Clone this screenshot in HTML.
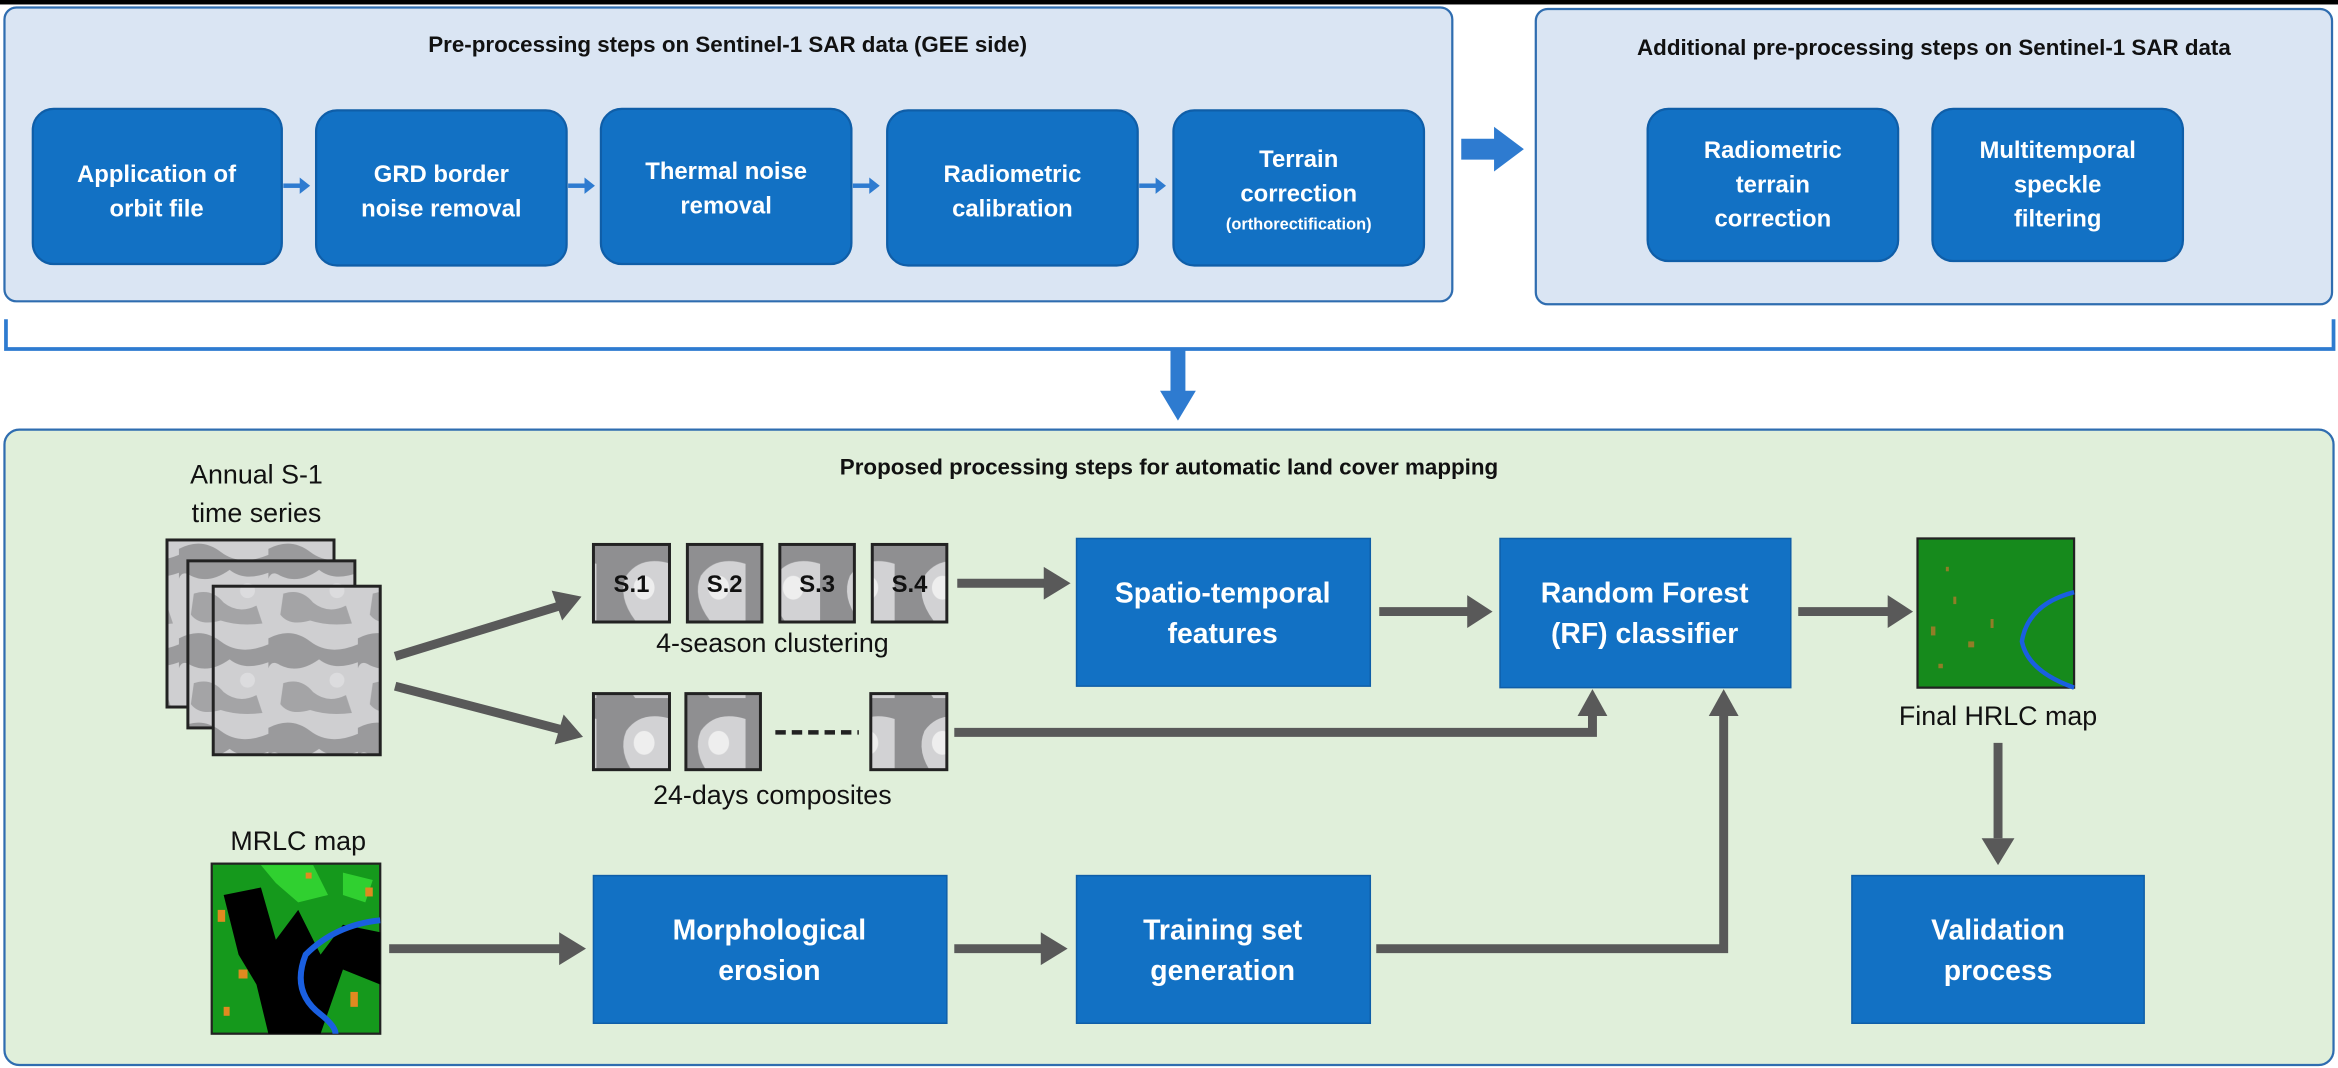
<!DOCTYPE html>
<html><head><meta charset="utf-8">
<style>
html,body{margin:0;padding:0;background:#fff;}
svg{display:block;}
text{font-family:"Liberation Sans Narrow","Liberation Sans",sans-serif;}
.t{font-weight:bold;font-size:15px;fill:#111;text-anchor:middle;}
.w{font-weight:bold;fill:#fff;text-anchor:middle;font-size:16px;}
.wb{font-weight:bold;fill:#fff;text-anchor:middle;font-size:19px;}
.l{fill:#111;text-anchor:middle;font-size:18px;}
.bx{fill:#1271c4;stroke:#0f5ea8;stroke-width:1.5;}
.sq{fill:#1271c4;stroke:#0f5ea8;stroke-width:1;}
.ga{stroke:#595959;stroke-width:6;fill:none;}
.gh{fill:#595959;}
.ba{stroke:#2e7bd0;stroke-width:2.5;fill:none;}
.bh{fill:#2e7bd0;}
</style></head><body>
<svg width="2338" height="1068" viewBox="0 0 1568 716" preserveAspectRatio="none" xmlns="http://www.w3.org/2000/svg">
<defs>
<pattern id="sar" width="60" height="60" patternUnits="userSpaceOnUse">
<rect width="60" height="60" fill="#cfcfd1"/>
<path d="M0 8 Q15 0 28 10 T60 12 L60 24 Q44 30 34 22 Q20 32 8 26 Q2 22 0 28Z" fill="#9a9a9c"/>
<path d="M10 38 Q22 34 30 44 Q40 52 52 46 L56 58 Q40 60 28 56 Q14 60 8 52Z" fill="#a4a4a6"/>
<circle cx="46" cy="36" r="5" fill="#dcdcde"/>
</pattern>
<pattern id="sar2" width="50" height="52" patternUnits="userSpaceOnUse">
<rect width="50" height="52" fill="#d2d2d4"/>
<path d="M0 0 L50 0 L50 14 Q30 8 20 22 Q14 36 26 52 L0 52Z" fill="#8f8f91"/>
<ellipse cx="32" cy="30" rx="7" ry="8" fill="#eeeeee"/>
</pattern>
</defs>
<rect x="0" y="0" width="1568" height="3" fill="#000"/>
<rect x="3" y="5" width="971" height="197" rx="8" fill="#dae5f3" stroke="#2f6db0" stroke-width="1.5"/>
<text class="t" x="488" y="35">Pre-processing steps on Sentinel-1 SAR data (GEE side)</text>
<rect class="bx" x="22" y="73" width="167" height="104" rx="14"/>
<text class="w" x="105" y="122">Application of</text><text class="w" x="105" y="145">orbit file</text>
<rect class="bx" x="212" y="74" width="168" height="104" rx="14"/>
<text class="w" x="296" y="122">GRD border</text><text class="w" x="296" y="145">noise removal</text>
<rect class="bx" x="403" y="73" width="168" height="104" rx="14"/>
<text class="w" x="487" y="120">Thermal noise</text><text class="w" x="487" y="143">removal</text>
<rect class="bx" x="595" y="74" width="168" height="104" rx="14"/>
<text class="w" x="679" y="122">Radiometric</text><text class="w" x="679" y="145">calibration</text>
<rect class="bx" x="787" y="74" width="168" height="104" rx="14"/>
<text class="w" x="871" y="112">Terrain</text><text class="w" x="871" y="135">correction</text>
<text class="w" x="871" y="154" style="font-size:11px">(orthorectification)</text>
<g class="bh">
<rect x="190" y="123" width="12" height="3"/><polygon points="201,119 208,124.5 201,130"/>
<rect x="381" y="123" width="12" height="3"/><polygon points="392,119 399,124.5 392,130"/>
<rect x="572" y="123" width="12" height="3"/><polygon points="583,119 590,124.5 583,130"/>
<rect x="764" y="123" width="12" height="3"/><polygon points="775,119 782,124.5 775,130"/>
<rect x="1273" y="122" width="12" height="3"/><polygon points="1284,118 1291,123.5 1284,129"/>
</g>
<polygon class="bh" points="980,93 1002,93 1002,85 1022,100 1002,115 1002,107 980,107"/>
<rect x="1030" y="6" width="534" height="198" rx="8" fill="#dae5f3" stroke="#2f6db0" stroke-width="1.5"/>
<text class="t" x="1297" y="37">Additional pre-processing steps on Sentinel-1 SAR data</text>
<rect class="bx" x="1105" y="73" width="168" height="102" rx="14"/>
<text class="w" x="1189" y="106">Radiometric</text><text class="w" x="1189" y="129">terrain</text><text class="w" x="1189" y="152">correction</text>
<rect class="bx" x="1296" y="73" width="168" height="102" rx="14"/>
<text class="w" x="1380" y="106">Multitemporal</text><text class="w" x="1380" y="129">speckle</text><text class="w" x="1380" y="152">filtering</text>
<polyline class="ba" points="4,214 4,234 1565,234 1565,214"/>
<rect class="bh" x="785" y="234" width="10" height="30"/>
<polygon class="bh" points="778,262 802,262 790,282"/>
<rect x="3" y="288" width="1562" height="426" rx="10" fill="#e0efda" stroke="#2f6db0" stroke-width="1.5"/>
<text class="t" x="784" y="318">Proposed processing steps for automatic land cover mapping</text>
<text class="l" x="172" y="324">Annual S-1</text><text class="l" x="172" y="350">time series</text>
<rect x="112" y="362" width="112" height="112" fill="url(#sar)" stroke="#222" stroke-width="2"/>
<rect x="126" y="376" width="112" height="112" fill="url(#sar)" stroke="#222" stroke-width="2"/>
<rect x="143" y="393" width="112" height="113" fill="url(#sar)" stroke="#222" stroke-width="2"/>
<line class="ga" x1="265" y1="440" x2="376" y2="406"/><polygon class="gh" points="390,400 370,396 377,416"/>
<line class="ga" x1="265" y1="460" x2="376" y2="489"/><polygon class="gh" points="391,494 378,479 372,499"/>
<g stroke="#222" stroke-width="2">
<rect x="398" y="365" width="51" height="52" fill="url(#sar2)"/>
<rect x="461" y="365" width="50" height="52" fill="url(#sar2)"/>
<rect x="523" y="365" width="50" height="52" fill="url(#sar2)"/>
<rect x="585" y="365" width="50" height="52" fill="url(#sar2)"/>
</g>
<g class="t" style="font-size:16px">
<text x="423.5" y="397">S.1</text><text x="486" y="397">S.2</text><text x="548" y="397">S.3</text><text x="610" y="397">S.4</text>
</g>
<text class="l" x="518" y="437">4-season clustering</text>
<line class="ga" x1="642" y1="391" x2="702" y2="391"/><polygon class="gh" points="718,391 700,380 700,402"/>
<g stroke="#222" stroke-width="2">
<rect x="398" y="465" width="51" height="51" fill="url(#sar2)"/>
<rect x="460" y="465" width="50" height="51" fill="url(#sar2)"/>
<rect x="584" y="465" width="51" height="51" fill="url(#sar2)"/>
</g>
<line x1="520" y1="491" x2="576" y2="491" stroke="#222" stroke-width="3" stroke-dasharray="7,4"/>
<text class="l" x="518" y="539">24-days composites</text>
<polyline class="ga" points="640,491 1068,491 1068,478"/><polygon class="gh" points="1068,462 1058,480 1078,480"/>
<rect class="sq" x="722" y="361" width="197" height="99"/>
<text class="wb" x="820" y="404">Spatio-temporal</text><text class="wb" x="820" y="431">features</text>
<line class="ga" x1="925" y1="410" x2="986" y2="410"/><polygon class="gh" points="1001,410 984,399 984,421"/>
<rect class="sq" x="1006" y="361" width="195" height="100"/>
<text class="wb" x="1103" y="404">Random Forest</text><text class="wb" x="1103" y="431">(RF) classifier</text>
<line class="ga" x1="1206" y1="410" x2="1267" y2="410"/><polygon class="gh" points="1283,410 1266,399 1266,421"/>
<rect x="1286" y="361" width="105" height="100" fill="#168a1c" stroke="#222" stroke-width="1.5"/>
<g fill="#b07a2a" opacity="0.8"><rect x="1295" y="420" width="3" height="6"/><rect x="1310" y="400" width="2" height="5"/><rect x="1320" y="430" width="4" height="4"/><rect x="1300" y="445" width="3" height="3"/><rect x="1335" y="415" width="2" height="6"/><rect x="1305" y="380" width="2" height="3"/></g>
<path d="M1391 397 Q1360 405 1356 430 Q1360 450 1391 461" fill="none" stroke="#1a5fe0" stroke-width="3"/>
<text class="l" x="1340" y="486">Final HRLC map</text>
<line class="ga" x1="1340" y1="498" x2="1340" y2="562"/><polygon class="gh" points="1340,580 1329,562 1351,562"/>
<rect class="sq" x="1242" y="587" width="196" height="99"/>
<text class="wb" x="1340" y="630">Validation</text><text class="wb" x="1340" y="657">process</text>
<text class="l" x="200" y="570">MRLC map</text>
<rect x="142" y="579" width="113" height="114" fill="#15991c" stroke="#222" stroke-width="1.5"/>
<path d="M150 600 L175 595 L185 630 L200 610 L215 640 L230 620 L255 625 L255 660 L230 650 L215 693 L180 693 L172 660 L160 640 Z" fill="#000"/>
<path d="M175 580 L210 580 L220 600 L200 605 L185 592Z" fill="#30d030"/>
<path d="M230 585 L250 590 L245 605 L230 600Z" fill="#30d030"/>
<g fill="#e08a20"><rect x="146" y="610" width="5" height="8"/><rect x="160" y="650" width="6" height="6"/><rect x="235" y="665" width="5" height="10"/><rect x="245" y="595" width="5" height="6"/><rect x="150" y="675" width="4" height="6"/><rect x="205" y="585" width="4" height="4"/></g>
<path d="M255 617 Q225 620 205 640 Q195 665 215 680 Q225 688 225 693" fill="none" stroke="#1a5fe0" stroke-width="4"/>
<line class="ga" x1="261" y1="636" x2="376" y2="636"/><polygon class="gh" points="393,636 375,625 375,647"/>
<rect class="sq" x="398" y="587" width="237" height="99"/>
<text class="wb" x="516" y="630">Morphological</text><text class="wb" x="516" y="657">erosion</text>
<line class="ga" x1="640" y1="636" x2="699" y2="636"/><polygon class="gh" points="716,636 698,625 698,647"/>
<rect class="sq" x="722" y="587" width="197" height="99"/>
<text class="wb" x="820" y="630">Training set</text><text class="wb" x="820" y="657">generation</text>
<polyline class="ga" points="923,636 1156,636 1156,478"/><polygon class="gh" points="1156,462 1146,480 1166,480"/>
</svg>
</body></html>
